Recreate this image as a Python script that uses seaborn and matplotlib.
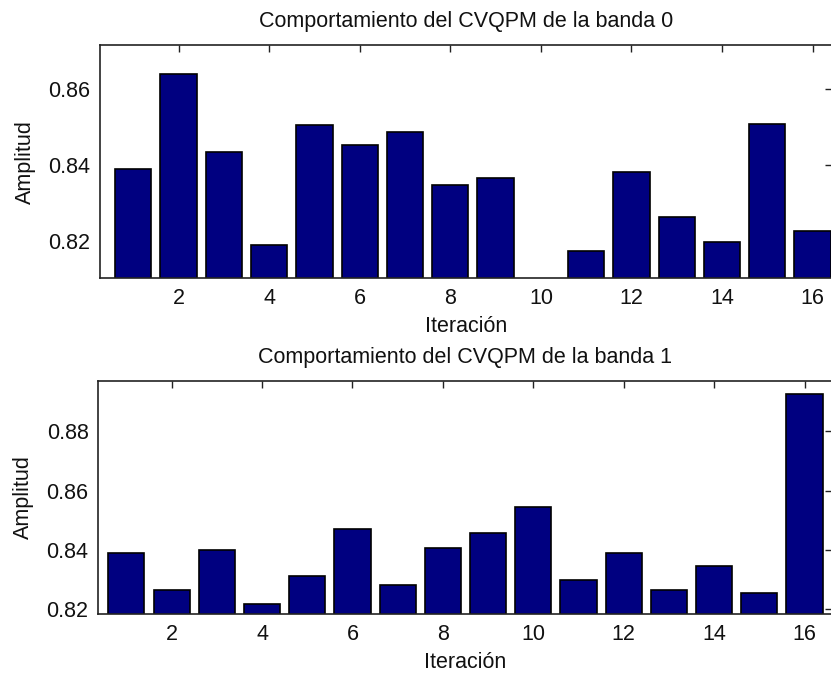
import numpy as np
import pandas as pd
import seaborn as sns
import matplotlib.pyplot as plt

# values
iteracion = list(range(1, 17))
banda0 = [0.8389, 0.8641, 0.8434, 0.8191, 0.8506, 0.8453, 0.8488, 0.8349,
          0.8367, 0.8050, 0.8174, 0.8381, 0.8263, 0.8197, 0.8510, 0.8227]
banda1 = [0.8391, 0.8266, 0.8401, 0.8219, 0.8312, 0.8470, 0.8283, 0.8408,
          0.8458, 0.8545, 0.8300, 0.8391, 0.8266, 0.8346, 0.8255, 0.8926]
titulos = ['Comportamiento del CVQPM de la banda 0',
           'Comportamiento del CVQPM de la banda 1']
yticks0 = [0.82, 0.84, 0.86]
yticks1 = [0.82, 0.84, 0.86, 0.88]
xticks = [2, 4, 6, 8, 10, 12, 14, 16]

sns.set_style('white')
plt.rcParams['font.family'] = ['Liberation Sans', 'DejaVu Sans']
plt.rcParams['text.color'] = '#111111'
plt.rcParams['axes.labelcolor'] = '#111111'

fig = plt.figure(figsize=(8.31, 6.75), dpi=100)
ax0 = fig.add_axes([0.1203, 0.5877, 0.8810, 0.3456])
ax1 = fig.add_axes([0.1183, 0.0904, 0.8830, 0.3456])

configs = [
    (ax0, banda0, titulos[0], yticks0, (0.264, 16.43), (0.8102, 0.8717)),
    (ax1, banda1, titulos[1], yticks1, (0.379, 16.61), (0.8184, 0.8971)),
]

for ax, vals, titulo, yt, xl, yl in configs:
    df = pd.DataFrame({'Iteracion': iteracion, 'Amplitud': vals})
    sns.barplot(data=df, x='Iteracion', y='Amplitud', native_scale=True,
                width=0.8, color='#000080', saturation=1,
                edgecolor='black', linewidth=1.2, ax=ax)
    ax.set_xlim(*xl)
    ax.set_ylim(*yl)
    ax.set_xticks(xticks)
    ax.set_xticklabels([str(t) for t in xticks])
    ax.set_yticks(yt)
    ax.set_yticklabels([f'{t:.2f}' for t in yt])
    ax.tick_params(direction='in', top=True, right=True, length=5,
                   width=1, labelsize=15.5, color='#222222',
                   labelcolor='#111111', pad=7)
    for sp in ax.spines.values():
        sp.set_color('#222222')
        sp.set_linewidth(1.2)
    ax.set_title(titulo, fontsize=15.5, pad=13)
    ax.set_xlabel('Iteración', fontsize=15.5, labelpad=5)
    ax.set_ylabel('Amplitud', fontsize=15.5, labelpad=9)

plt.savefig('out.png', dpi=100)
